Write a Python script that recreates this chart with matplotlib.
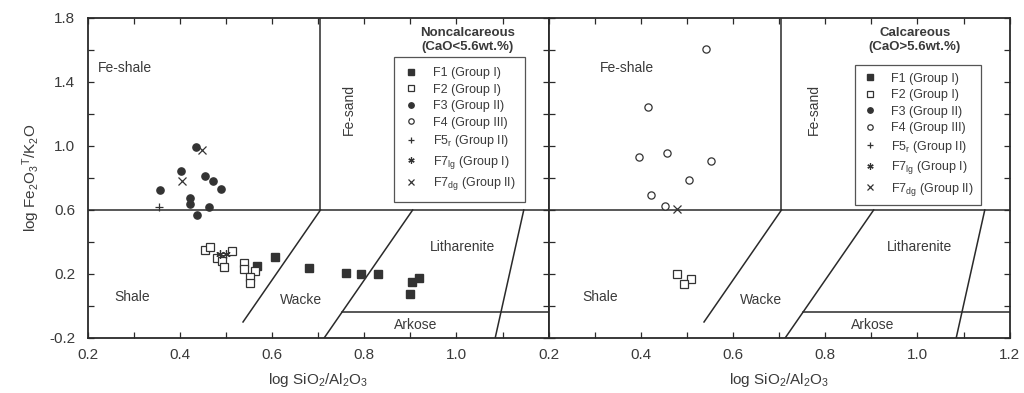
import matplotlib
matplotlib.use('Agg')
import matplotlib.pyplot as plt
from matplotlib.lines import Line2D
from matplotlib.ticker import MultipleLocator

# ---------------- data ----------------
# Noncalcareous panel
f1_x = [0.607, 0.567, 0.681, 0.761, 0.794, 0.829, 0.918, 0.903, 0.900]
f1_y = [0.308, 0.248, 0.239, 0.206, 0.198, 0.200, 0.174, 0.149, 0.078]
f2_x = [0.455, 0.465, 0.481, 0.491, 0.496, 0.514, 0.539, 0.539, 0.563, 0.553, 0.553]
f2_y = [0.350, 0.371, 0.298, 0.283, 0.246, 0.344, 0.267, 0.229, 0.221, 0.183, 0.146]
f3_x = [0.435, 0.403, 0.455, 0.471, 0.489, 0.357, 0.422, 0.422, 0.464, 0.437]
f3_y = [0.996, 0.846, 0.814, 0.779, 0.733, 0.723, 0.675, 0.637, 0.621, 0.567]
f5r_x = [0.354]
f5r_y = [0.619]
f7lg_x = [0.487, 0.500]
f7lg_y = [0.322, 0.322]
f7dg_x = [0.449, 0.404]
f7dg_y = [0.975, 0.781]

# Calcareous panel
c_f2_x = [0.478, 0.509, 0.493]
c_f2_y = [0.198, 0.167, 0.138]
c_f4_x = [0.542, 0.416, 0.397, 0.456, 0.553, 0.505, 0.423, 0.453]
c_f4_y = [1.606, 1.244, 0.929, 0.956, 0.906, 0.789, 0.694, 0.625]
c_f7dg_x = [0.479]
c_f7dg_y = [0.606]

# classification field boundaries (Herron, 1988)
boundary_x = [[0.2, 1.2], [0.705, 0.705], [0.537, 0.705], [0.713, 0.905],
              [0.752, 1.2], [1.084, 1.146]]
boundary_y = [[0.6, 0.6], [0.6, 1.8], [-0.1, 0.6], [-0.2, 0.6],
              [-0.035, -0.035], [-0.2, 0.6]]

legend_labels = ['F1 (Group I)', 'F2 (Group I)', 'F3 (Group II)', 'F4 (Group III)',
                 r'F5$_\mathregular{r}$ (Group II)', r'F7$_\mathregular{lg}$ (Group I)',
                 r'F7$_\mathregular{dg}$ (Group II)']

x_ticks = [0.2, 0.4, 0.6, 0.8, 1.0, 1.2]
y_ticks = [-0.2, 0.0, 0.2, 0.4, 0.6, 0.8, 1.0, 1.2, 1.4, 1.6, 1.8]
y_ticklabels = ['-0.2', '', '0.2', '', '0.6', '', '1.0', '', '1.4', '', '1.8']

# ---------------- style ----------------
plt.rcParams['font.family'] = ['Liberation Sans', 'DejaVu Sans']
plt.rcParams['mathtext.fontset'] = 'custom'
plt.rcParams['mathtext.rm'] = 'Liberation Sans'
plt.rcParams['mathtext.it'] = 'Liberation Sans'
TXT = '#3a3a3a'
LN = '#2a2a2a'
MK = '#333333'

styles = [
    dict(marker='s', color=MK, mfc=MK, ms=5.2, ls='none'),
    dict(marker='s', color=MK, mfc='white', ms=5.2, mew=0.9, ls='none'),
    dict(marker='o', color=MK, mfc=MK, ms=5.2, ls='none'),
    dict(marker='o', color=MK, mfc='white', ms=5.2, mew=0.9, ls='none'),
    dict(marker='+', color=MK, ms=6, mew=0.9, ls='none'),
    dict(marker=(6, 2, 0), color=MK, ms=6, mew=0.9, ls='none'),
    dict(marker='x', color=MK, ms=5.5, mew=0.9, ls='none'),
]

fig = plt.figure(figsize=(10.24, 3.93), dpi=100)
ax1 = fig.add_axes([0.0856, 0.14, 0.4502, 0.8142])
ax2 = fig.add_axes([0.5358, 0.14, 0.4502, 0.8142])

for ax in (ax1, ax2):
    ax.set_xlim(0.2, 1.2)
    ax.set_ylim(-0.2, 1.8)
    for bx, by in zip(boundary_x, boundary_y):
        ax.plot(bx, by, color=LN, lw=1.1)
    ax.set_xticks(x_ticks)
    ax.xaxis.set_minor_locator(MultipleLocator(0.1))
    ax.set_yticks(y_ticks)
    ax.tick_params(which='both', direction='in', top=True, right=True,
                   length=4, width=0.9, color=LN, labelsize=11, labelcolor=TXT)
    ax.tick_params(axis='x', pad=7)
    ax.tick_params(axis='y', pad=9)
    for s in ax.spines.values():
        s.set_linewidth(1.3)
        s.set_color(LN)
    ax.set_xlabel(r'log SiO$_2$/Al$_2$O$_3$', fontsize=11, color=TXT, labelpad=7)

ax1.set_xticklabels(['0.2', '0.4', '0.6', '0.8', '1.0', ''])
ax2.set_xticklabels(['0.2', '0.4', '0.6', '0.8', '1.0', '1.2'])
ax1.set_yticklabels(y_ticklabels)
ax2.set_yticklabels([])
ax1.set_ylabel(r'log Fe$_2$O$_3$$^\mathregular{T}$/K$_2$O', fontsize=11, color=TXT, labelpad=5)

# data points
ax1.plot(f1_x, f1_y, **styles[0])
ax1.plot(f2_x, f2_y, **styles[1])
ax1.plot(f3_x, f3_y, **styles[2])
ax1.plot(f5r_x, f5r_y, **styles[4])
ax1.plot(f7lg_x, f7lg_y, **styles[5])
ax1.plot(f7dg_x, f7dg_y, **styles[6])

ax2.plot(c_f2_x, c_f2_y, **styles[1])
ax2.plot(c_f4_x, c_f4_y, **styles[3])
ax2.plot(c_f7dg_x, c_f7dg_y, **styles[6])

# field labels
fs = 10
ax1.text(0.28, 1.49, 'Fe-shale', fontsize=fs, color=TXT, ha='center', va='center')
ax1.text(0.296, 0.056, 'Shale', fontsize=fs, color=TXT, ha='center', va='center')
ax1.text(0.662, 0.04, 'Wacke', fontsize=fs, color=TXT, ha='center', va='center')
ax1.text(1.014, 0.369, 'Litharenite', fontsize=fs, color=TXT, ha='center', va='center')
ax1.text(0.912, -0.119, 'Arkose', fontsize=fs, color=TXT, ha='center', va='center')
ax1.text(0.766, 1.225, 'Fe-sand', fontsize=fs, color=TXT, ha='center', va='center', rotation=90)

ax2.text(0.369, 1.49, 'Fe-shale', fontsize=fs, color=TXT, ha='center', va='center')
ax2.text(0.311, 0.056, 'Shale', fontsize=fs, color=TXT, ha='center', va='center')
ax2.text(0.66, 0.04, 'Wacke', fontsize=fs, color=TXT, ha='center', va='center')
ax2.text(1.005, 0.369, 'Litharenite', fontsize=fs, color=TXT, ha='center', va='center')
ax2.text(0.902, -0.119, 'Arkose', fontsize=fs, color=TXT, ha='center', va='center')
ax2.text(0.775, 1.225, 'Fe-sand', fontsize=fs, color=TXT, ha='center', va='center', rotation=90)

ax1.text(1.024, 1.663, 'Noncalcareous\n(CaO<5.6wt.%)', fontsize=9.5, fontweight='bold',
         color=TXT, ha='center', va='center', linespacing=1.2)
ax2.text(0.994, 1.663, 'Calcareous\n(CaO>5.6wt.%)', fontsize=9.5, fontweight='bold',
         color=TXT, ha='center', va='center', linespacing=1.2)

# legends
handles = [Line2D([], [], **st) for st in styles]
for ax, top, bp in ((ax1, 0.878, 0.8), (ax2, 0.853, 0.6)):
    leg = ax.legend(handles, legend_labels, loc='upper left', bbox_to_anchor=(0.664, top),
                    fontsize=9, frameon=True, fancybox=False, borderpad=bp,
                    labelspacing=0.36, handlelength=1.2, handletextpad=1.1,
                    markerscale=0.75, borderaxespad=0)
    leg.get_frame().set_edgecolor(LN)
    leg.get_frame().set_linewidth(0.9)
    for t in leg.get_texts():
        t.set_color(TXT)

fig.savefig('out.png', dpi=100)
